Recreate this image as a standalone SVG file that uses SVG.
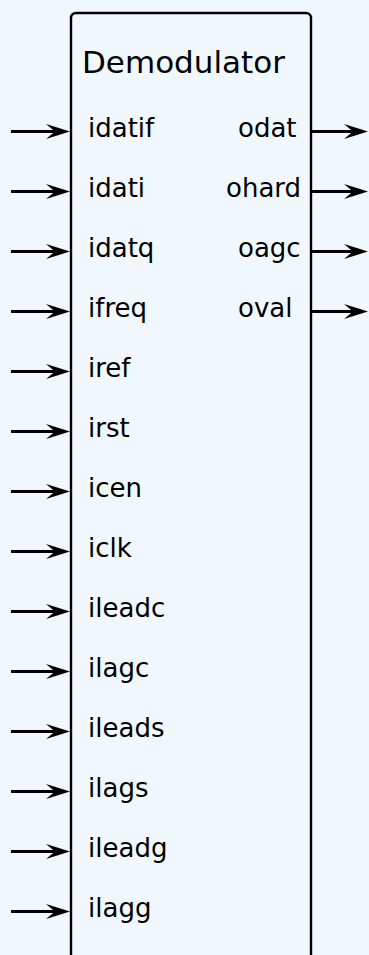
<svg xmlns="http://www.w3.org/2000/svg" width="369" height="955" viewBox="0 0 369 955">
<style>
.bg{fill:#f0f8fd}
.box{fill:#f0f8fd;stroke:#000;stroke-width:2.4}
.title{font-family:"DejaVu Sans",sans-serif;font-size:31px;fill:#000}
.port{font-family:"DejaVu Sans",sans-serif;font-size:26px;fill:#000}
.wire{stroke:#000;stroke-width:3.2;fill:none;marker-end:url(#ah)}
</style>
<defs>
<marker id="ah" viewBox="-24 -8 24 16" refX="-13" refY="0" markerWidth="24" markerHeight="16" markerUnits="userSpaceOnUse" orient="auto" overflow="visible">
<path d="M0,0 L-24,-7.5 L-15,0 L-24,7.5 Z" fill="#000"/>
</marker>
</defs>
<rect class="bg" x="0" y="0" width="369" height="955"/>
<g id="demodulator">
<rect class="box" x="71" y="13" width="240" height="990" rx="5" ry="5"/>
<text class="title" x="82" y="73">Demodulator</text>
<text class="port" x="88" y="136.5">idatif</text>
<text class="port" x="88" y="196.5">idati</text>
<text class="port" x="88" y="256.5">idatq</text>
<text class="port" x="88" y="316.5">ifreq</text>
<text class="port" x="88" y="376.5">iref</text>
<text class="port" x="88" y="436.5">irst</text>
<text class="port" x="88" y="496.5">icen</text>
<text class="port" x="88" y="556.5">iclk</text>
<text class="port" x="88" y="616.5">ileadc</text>
<text class="port" x="88" y="676.5">ilagc</text>
<text class="port" x="88" y="736.5">ileads</text>
<text class="port" x="88" y="796.5">ilags</text>
<text class="port" x="88" y="856.5">ileadg</text>
<text class="port" x="88" y="916.5">ilagg</text>
<text class="port" x="238" y="136.5">odat</text>
<text class="port" x="226" y="196.5">ohard</text>
<text class="port" x="238" y="256.5">oagc</text>
<text class="port" x="238" y="316.5">oval</text>
</g>
<g id="connectors">
<line class="wire" x1="11" y1="131.5" x2="57" y2="131.5"/>
<line class="wire" x1="11" y1="191.5" x2="57" y2="191.5"/>
<line class="wire" x1="11" y1="251.5" x2="57" y2="251.5"/>
<line class="wire" x1="11" y1="311.5" x2="57" y2="311.5"/>
<line class="wire" x1="11" y1="371.5" x2="57" y2="371.5"/>
<line class="wire" x1="11" y1="431.5" x2="57" y2="431.5"/>
<line class="wire" x1="11" y1="491.5" x2="57" y2="491.5"/>
<line class="wire" x1="11" y1="551.5" x2="57" y2="551.5"/>
<line class="wire" x1="11" y1="611.5" x2="57" y2="611.5"/>
<line class="wire" x1="11" y1="671.5" x2="57" y2="671.5"/>
<line class="wire" x1="11" y1="731.5" x2="57" y2="731.5"/>
<line class="wire" x1="11" y1="791.5" x2="57" y2="791.5"/>
<line class="wire" x1="11" y1="851.5" x2="57" y2="851.5"/>
<line class="wire" x1="11" y1="911.5" x2="57" y2="911.5"/>
<line class="wire" x1="312" y1="131.5" x2="355" y2="131.5"/>
<line class="wire" x1="312" y1="191.5" x2="355" y2="191.5"/>
<line class="wire" x1="312" y1="251.5" x2="355" y2="251.5"/>
<line class="wire" x1="312" y1="311.5" x2="355" y2="311.5"/>
</g>
</svg>
